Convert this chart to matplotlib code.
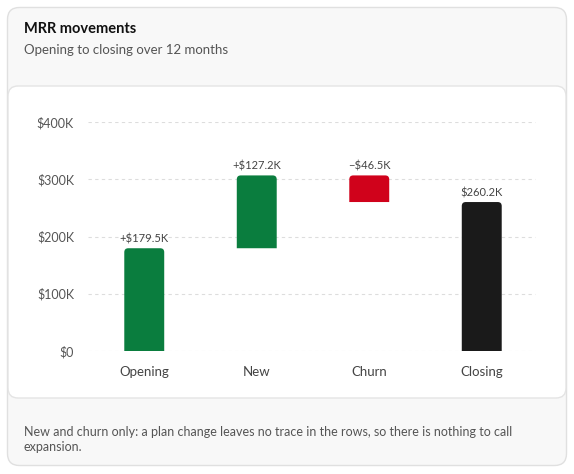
import matplotlib
matplotlib.use("Agg")
import matplotlib.pyplot as plt
import matplotlib.patches as patches
from matplotlib.path import Path

# Data
categories = ["Opening", "New", "Churn", "Closing"]
opening = 179.5e3
new_mrr = 127.2e3
churn = -46.5e3
closing = opening + new_mrr + churn
bar_labels = ["+$179.5K", "+$127.2K", "\u2212$46.5K", "$260.2K"]
yticks = [0, 100e3, 200e3, 300e3, 400e3]
ytick_labels = ["$0", "$100K", "$200K", "$300K", "$400K"]

bottoms = [0, opening, opening + new_mrr + churn, 0]
heights = [opening, new_mrr, -churn, closing]
colors = ["#0a7d3e", "#0a7d3e", "#d0021b", "#1a1a1a"]

plt.rcParams['font.family'] = ['Lato', 'DejaVu Sans']

W, H = 574, 474
fig = plt.figure(figsize=(W / 100, H / 100), dpi=100)

# Background card, in pixel coordinates
bg = fig.add_axes([0, 0, 1, 1])
bg.set_xlim(0, W)
bg.set_ylim(H, 0)
bg.axis('off')
outer = patches.FancyBboxPatch((7.5, 7.5), W - 15, H - 16,
                               boxstyle="round,pad=0,rounding_size=12",
                               facecolor="#f8f8f8", edgecolor="#e0e0e0", linewidth=1)
bg.add_patch(outer)
inner = patches.FancyBboxPatch((8, 86), W - 16, 312,
                               boxstyle="round,pad=0,rounding_size=10",
                               facecolor="white", edgecolor="#e4e4e4", linewidth=1)
bg.add_patch(inner)

bg.text(24, 29, "MRR movements", fontsize=10.5, fontweight='bold', color="#111111", va='center')
bg.text(24, 50, "Opening to closing over 12 months", fontsize=9.5, color="#555555", va='center')
bg.text(24, 432, "New and churn only: a plan change leaves no trace in the rows, so there is nothing to call",
        fontsize=9, color="#555555", va='center')
bg.text(24, 447, "expansion.", fontsize=9, color="#555555", va='center')

# Chart
ax = fig.add_axes([88 / W, 1 - 351 / H, 450 / W, 229 / H])
ax.set_xlim(-0.5, len(categories) - 0.5)
ax.set_ylim(0, 400e3)
for s in ax.spines.values():
    s.set_visible(False)
ax.set_yticks(yticks)
ax.set_yticklabels(ytick_labels)
ax.set_xticks(range(len(categories)))
ax.set_xticklabels(categories)
ax.tick_params(axis='y', length=0, pad=10, labelsize=9, labelcolor="#555555")
ax.tick_params(axis='x', length=0, pad=11, labelsize=9.5, labelcolor="#444444")
ax.set_axisbelow(True)
for t in yticks:
    ax.axhline(t, xmin=0, xmax=447 / 450, color="#dddddd", linewidth=0.8, linestyle=(0, (3, 3)), zorder=0)

bars = ax.bar(range(len(categories)), heights, bottom=bottoms, width=0.355, color=colors)

# rounded tops: replace each bar by a single path with rounded upper corners
x_per_px = 1.0 / 112.5
y_per_px = 400e3 / 229
rx = 4 * x_per_px
ry = 4 * y_per_px
for b, c in zip(bars, colors):
    b.set_visible(False)
    x, y, w, h = b.get_x(), b.get_y(), b.get_width(), b.get_height()
    top = y + h
    verts = [(x, y), (x, top - ry), (x, top), (x + rx, top),
             (x + w - rx, top), (x + w, top), (x + w, top - ry),
             (x + w, y), (x, y)]
    codes = [Path.MOVETO, Path.LINETO, Path.CURVE3, Path.CURVE3,
             Path.LINETO, Path.CURVE3, Path.CURVE3, Path.LINETO, Path.CLOSEPOLY]
    ax.add_patch(patches.PathPatch(Path(verts, codes), facecolor=c, edgecolor='none', zorder=2))

for b, lab in zip(bars, bar_labels):
    top = b.get_y() + b.get_height()
    ax.annotate(lab, (b.get_x() + b.get_width() / 2, top), xytext=(0, 2.5), textcoords='offset points',
                ha='center', va='bottom', fontsize=8, color="#444444")

fig.savefig("out.png", dpi=100)
